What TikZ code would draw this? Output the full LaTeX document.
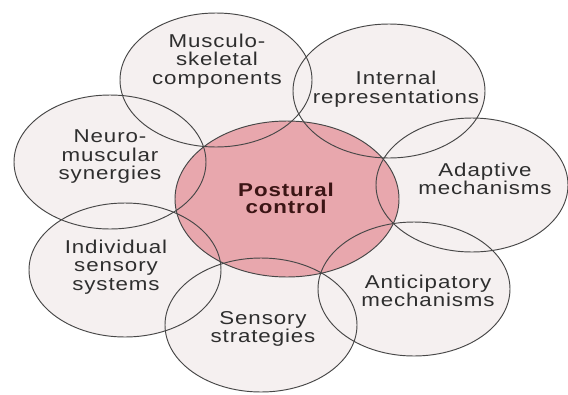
\documentclass[tikz,border=0pt]{standalone}
\usepackage{fontspec}
\setmainfont{Liberation Sans}[FakeStretch=1.2, LetterSpace=4.8]
\definecolor{outerfill}{HTML}{F5F0F0}
\definecolor{pinkfill}{HTML}{E8A7AD}
\definecolor{edgecol}{HTML}{474747}
\definecolor{txtcol}{HTML}{2E2E2E}
\definecolor{boldcol}{HTML}{3B1515}
\begin{document}
\begin{tikzpicture}[x=1pt,y=-1pt,
  outer/.style={fill=outerfill},
  edge/.style={draw=edgecol,line width=0.95pt},
  lbl/.style={align=center,text=txtcol,font=\fontsize{18.6}{18.5}\selectfont,inner sep=0pt},
  mainlbl/.style={align=center,text=boldcol,font=\fontsize{18.6}{17}\selectfont\bfseries,inner sep=0pt}]
\useasboundingbox (0,0) rectangle (568,394);
% fills of outer ellipses
\foreach \cx/\cy in {216/80, 389/91, 472/185, 110/162, 125/270, 261/325, 414/289}
  \fill[outer] (\cx,\cy) ellipse [x radius=96, y radius=67];
% centre
\fill[pinkfill] (287,199) ellipse [x radius=112, y radius=78];
% outlines
\foreach \cx/\cy in {216/80, 389/91, 472/185, 110/162, 125/270, 261/325, 414/289}
  \draw[edge] (\cx,\cy) ellipse [x radius=96, y radius=67];
\draw[edge] (287,199) ellipse [x radius=112, y radius=78];
% labels
\node[lbl] (musc) at (217,61) {Musculo-\\skeletal\\components};
\node[lbl] (intr) at (396,89) {Internal\\representations};
\node[lbl] (adap) at (485,179) {Adaptive\\mechanisms};
\node[lbl] (neur) at (110,157) {Neuro-\\muscular\\synergies};
\node[lbl] (indv) at (116,267) {Individual\\sensory\\systems};
\node[lbl] (sstr) at (263,329) {Sensory\\strategies};
\node[lbl] (anti) at (428,291) {Anticipatory\\mechanisms};
\node[mainlbl] (post) at (286,198) {Postural\\control};
\end{tikzpicture}
\end{document}
